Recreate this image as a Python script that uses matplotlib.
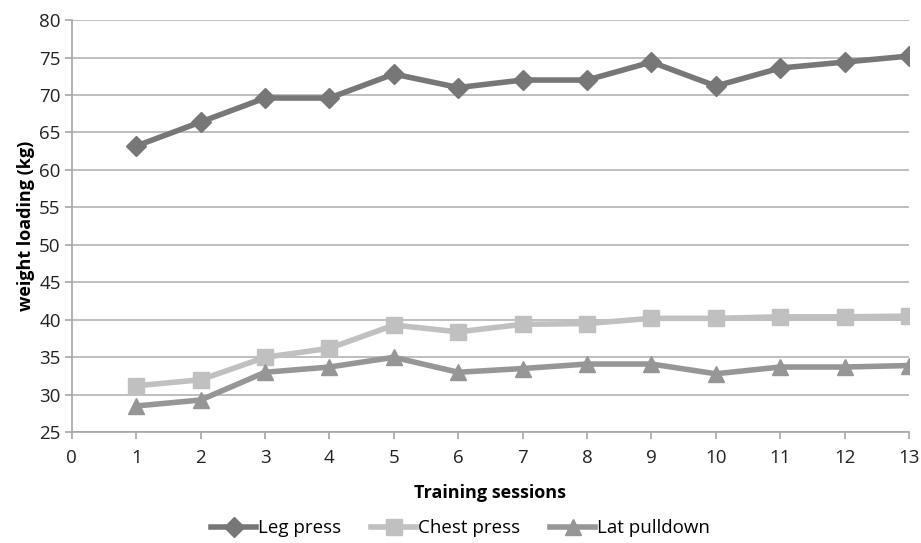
import numpy as np
import matplotlib.pyplot as plt

plt.rcParams['font.family'] = ['Open Sans', 'DejaVu Sans']

sessions = np.arange(1, 14)
leg_press = [63.2, 66.4, 69.6, 69.6, 72.8, 71.0, 72.0, 72.0, 74.4, 71.2, 73.6, 74.4, 75.2]
chest_press = [31.2, 32.0, 35.0, 36.2, 39.3, 38.4, 39.4, 39.5, 40.2, 40.2, 40.4, 40.4, 40.5]
lat_pulldown = [28.5, 29.3, 33.0, 33.7, 35.0, 33.0, 33.5, 34.1, 34.1, 32.8, 33.7, 33.7, 33.9]

fig = plt.figure(figsize=(9.21, 5.43), dpi=100)
ax = fig.add_axes([0.078, 0.204, 0.909, 0.759])

ax.plot(sessions, leg_press, color='#777777', lw=4, marker='D', ms=10, label='Leg press')
ax.plot(sessions, chest_press, color='#c0c0c0', lw=4, marker='s', ms=11, label='Chest press')
ax.plot(sessions, lat_pulldown, color='#969696', lw=4, marker='^', ms=12, label='Lat pulldown')

ax.set_xlim(0, 13)
ax.set_ylim(25, 80)
ax.set_xticks(range(0, 14))
ax.set_yticks(range(25, 81, 5))
ax.yaxis.grid(True, color='#b3b3b3', lw=1.2)
ax.set_axisbelow(True)
for s in ['top', 'right']:
    ax.spines[s].set_visible(False)
for s in ['left', 'bottom']:
    ax.spines[s].set_color('#a6a6a6')
    ax.spines[s].set_linewidth(1.2)
ax.tick_params(axis='both', colors='#a6a6a6', labelcolor='#222222', labelsize=13.5, length=5, width=1.2)
ax.tick_params(axis='x', pad=7)
ax.tick_params(axis='y', pad=3)

ax.set_xlabel('Training sessions', fontsize=13, fontweight='bold', labelpad=12)
ax.set_ylabel('weight loading (kg)', fontsize=13, fontweight='bold', labelpad=3)

fig.legend(*ax.get_legend_handles_labels(), loc='center', bbox_to_anchor=(0.5, 0.027), ncol=3,
           frameon=False, fontsize=13.5, handlelength=2.4, columnspacing=1.6, handletextpad=0.1)

fig.savefig('out.png', dpi=100)
